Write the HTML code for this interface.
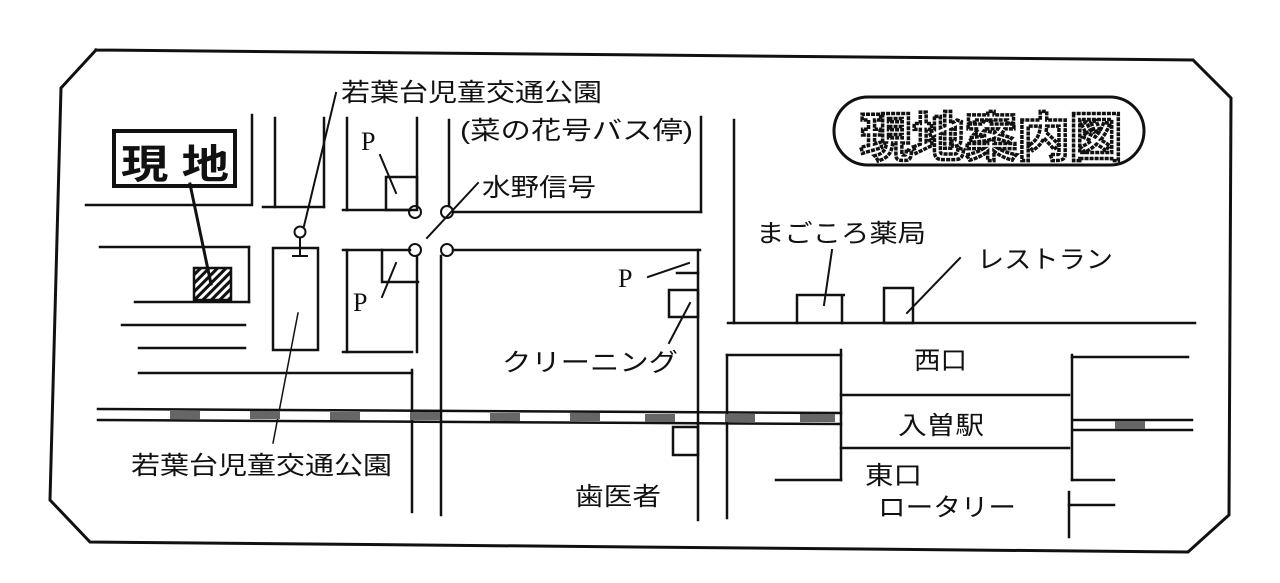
<!DOCTYPE html>
<html><head><meta charset="utf-8"><style>
html,body{margin:0;padding:0;background:#fff;}
svg{display:block;}
text{font-family:"Liberation Sans","Noto Sans CJK JP",sans-serif;fill:#111;}
</style></head><body>
<svg width="1280" height="583" viewBox="0 0 1280 583" xmlns="http://www.w3.org/2000/svg">
<defs>
<pattern id="h" width="6" height="6" patternUnits="userSpaceOnUse" patternTransform="rotate(45)"><rect width="6" height="6" fill="#fff"/><rect width="3" height="6" fill="#111"/></pattern>
</defs>
<g fill="none" stroke="#111" stroke-width="2.5" stroke-linecap="square">
<polyline points="96,50 1193,60 1231,98 1229,515 1188,552 90,542 50,500 61,88 96,50" stroke-width="3"/>
<rect x="114" y="131" width="121" height="55" stroke-width="4"/>
<line x1="86" y1="205" x2="250" y2="205"/>
<line x1="252" y1="115" x2="252" y2="205"/>
<line x1="275" y1="118" x2="275" y2="207"/>
<line x1="324" y1="118" x2="324" y2="207"/>
<line x1="263" y1="207" x2="324" y2="207"/>
<line x1="100" y1="247" x2="249" y2="247"/>
<line x1="249" y1="247" x2="249" y2="302"/>
<line x1="135" y1="302" x2="249" y2="302"/>
<line x1="122" y1="325" x2="245" y2="325"/>
<line x1="139" y1="348" x2="245" y2="348"/>
<line x1="139" y1="373" x2="412" y2="373"/>
<rect x="194" y="268" width="37" height="32" fill="url(#h)"/>
<line x1="190" y1="184" x2="211" y2="284" stroke-width="3"/>
<rect x="273" y="248" width="45" height="102"/>
<circle cx="300" cy="232" r="5.5" stroke-width="2"/>
<line x1="300" y1="238" x2="300" y2="256" stroke-width="2"/>
<line x1="293" y1="256" x2="307" y2="256" stroke-width="2"/>
<line x1="336" y1="93" x2="304" y2="226" stroke-width="2"/>
<line x1="298" y1="313" x2="273" y2="443" stroke-width="1.5"/>
<line x1="347" y1="118" x2="347" y2="210"/>
<line x1="417" y1="118" x2="417" y2="206"/>
<line x1="343" y1="210" x2="410" y2="210"/>
<rect x="386" y="177" width="31" height="33"/>
<line x1="380" y1="155" x2="396" y2="193" stroke-width="2"/>
<line x1="343" y1="250" x2="410" y2="250"/>
<line x1="347" y1="250" x2="347" y2="352"/>
<line x1="417" y1="256" x2="417" y2="352"/>
<line x1="343" y1="352" x2="412" y2="352"/>
<polyline points="382,250 382,282 418,282" />
<line x1="382" y1="297" x2="396" y2="263" stroke-width="2"/>
<circle cx="415" cy="212" r="6" stroke-width="2"/>
<circle cx="447" cy="212" r="6" stroke-width="2"/>
<circle cx="415" cy="250" r="6" stroke-width="2"/>
<circle cx="447" cy="250" r="6" stroke-width="2"/>
<line x1="449" y1="120" x2="449" y2="206"/>
<line x1="453" y1="212" x2="701" y2="212"/>
<line x1="701" y1="117" x2="701" y2="212"/>
<line x1="478" y1="183" x2="427" y2="238" stroke-width="2"/>
<line x1="453" y1="250" x2="700" y2="250"/>
<line x1="412" y1="370" x2="412" y2="512"/>
<line x1="441" y1="256" x2="441" y2="515"/>
<line x1="698" y1="250" x2="698" y2="520"/>
<line x1="677" y1="273" x2="698" y2="273"/>
<line x1="648" y1="277" x2="689" y2="263" stroke-width="2"/>
<rect x="669" y="290" width="29" height="27"/>
<line x1="669" y1="343" x2="690" y2="303" stroke-width="2"/>
<rect x="673" y="427" width="25" height="28"/>
<line x1="734" y1="120" x2="734" y2="323"/>
<line x1="728" y1="323" x2="1195" y2="323"/>
<polyline points="797,323 797,295 845,295 842,295 842,323"/>
<line x1="832" y1="250" x2="824" y2="305" stroke-width="2"/>
<rect x="884" y="288" width="29" height="35"/>
<line x1="960" y1="258" x2="907" y2="313" stroke-width="2"/>
<line x1="727" y1="355" x2="727" y2="518"/>
<line x1="727" y1="355" x2="841" y2="355"/>
<line x1="841" y1="350" x2="841" y2="480"/>
<line x1="776" y1="480" x2="841" y2="480"/>
<line x1="841" y1="395" x2="1069" y2="395"/>
<line x1="841" y1="448" x2="1069" y2="448"/>
<line x1="1072" y1="355" x2="1072" y2="480"/>
<line x1="1072" y1="357" x2="1188" y2="357"/>
<line x1="1072" y1="480" x2="1114" y2="480"/>
<line x1="1069" y1="492" x2="1069" y2="537"/>
<line x1="1069" y1="505" x2="1114" y2="505"/>
<line x1="98" y1="409" x2="841" y2="413" stroke-width="2.5"/>
<line x1="98" y1="420" x2="841" y2="424" stroke-width="2.5"/>
<line x1="1073" y1="420" x2="1192" y2="420" stroke-width="2.5"/>
<line x1="1073" y1="430" x2="1192" y2="430" stroke-width="2.5"/>
<rect x="834" y="97" width="310" height="68" rx="34" stroke-width="3"/>
</g>
<g fill="#666">
<rect x="170" y="411" width="30" height="8"/><rect x="250" y="411" width="30" height="8"/><rect x="330" y="412" width="30" height="8"/><rect x="410" y="412" width="30" height="8"/><rect x="490" y="413" width="30" height="8"/><rect x="570" y="413" width="30" height="8"/><rect x="645" y="414" width="30" height="8"/><rect x="725" y="414" width="30" height="8"/><rect x="800" y="414" width="35" height="8"/><rect x="1115" y="421" width="30" height="8"/>
</g>
<g font-size="25">
<text x="341" y="101" textLength="261" lengthAdjust="spacingAndGlyphs">若葉台児童交通公園</text>
<text x="460" y="139" textLength="233" lengthAdjust="spacingAndGlyphs">(菜の花号バス停)</text>
<text x="482" y="196" textLength="114" lengthAdjust="spacingAndGlyphs">水野信号</text>
<text x="756" y="242" textLength="170" lengthAdjust="spacingAndGlyphs">まごころ薬局</text>
<text x="977" y="268" textLength="136" lengthAdjust="spacingAndGlyphs">レストラン</text>
<text x="502" y="371" textLength="176" lengthAdjust="spacingAndGlyphs">クリーニング</text>
<text x="131" y="474" textLength="261" lengthAdjust="spacingAndGlyphs">若葉台児童交通公園</text>
<text x="575" y="505" textLength="86" lengthAdjust="spacingAndGlyphs">歯医者</text>
<text x="914" y="369" textLength="53" lengthAdjust="spacingAndGlyphs">西口</text>
<text x="898" y="434" textLength="86" lengthAdjust="spacingAndGlyphs">入曽駅</text>
<text x="865" y="484" textLength="57" lengthAdjust="spacingAndGlyphs">東口</text>
<text x="878" y="516" textLength="138" lengthAdjust="spacingAndGlyphs">ロータリー</text>
</g>
<g font-size="26">
<text x="361" y="150" style="font-family:'Liberation Serif',serif">P</text>
<text x="353" y="311" style="font-family:'Liberation Serif',serif">P</text>
<text x="618" y="287" style="font-family:'Liberation Serif',serif">P</text>
</g>
<text x="121" y="178" font-size="40" font-weight="bold" textLength="108" lengthAdjust="spacingAndGlyphs">現 地</text>
<text x="860" y="156" font-size="52" font-weight="bold" textLength="262" lengthAdjust="spacingAndGlyphs" style="fill:#fff;stroke:#111;stroke-width:3.5;stroke-dasharray:4 1">現地案内図</text>
</svg>
</body></html>
